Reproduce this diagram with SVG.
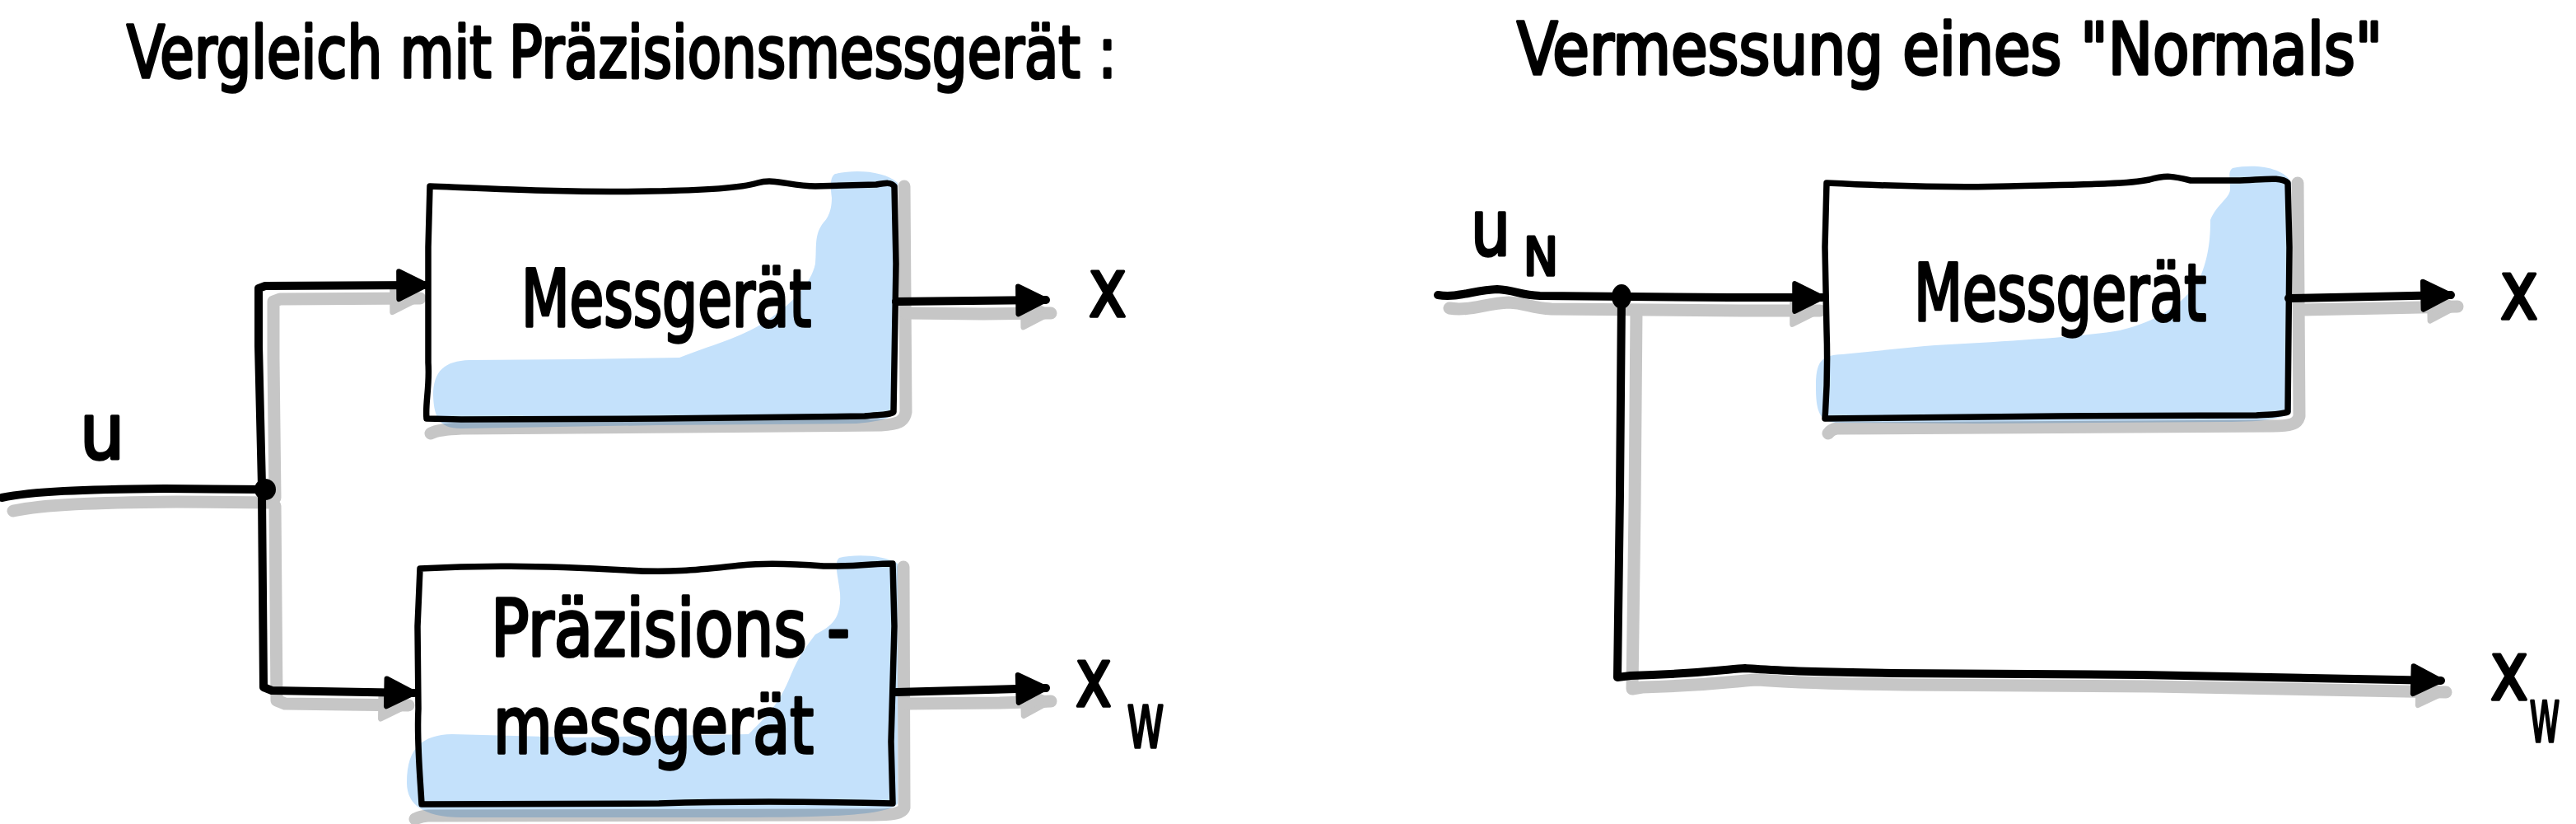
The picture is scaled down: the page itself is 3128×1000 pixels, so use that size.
<svg xmlns="http://www.w3.org/2000/svg" width="3128" height="1000" viewBox="0 0 3128 1000">
<style>
.bg{fill:#ffffff}
.box{fill:none;stroke:#000;stroke-width:7.5;stroke-linejoin:round;stroke-linecap:round}
.blue{fill:#c4e1fb;mix-blend-mode:multiply}
.sh{fill:none;stroke:#c6c6c6;stroke-width:15;stroke-linejoin:round;stroke-linecap:round}
.con{fill:none;stroke:#000;stroke-width:10;stroke-linejoin:round;stroke-linecap:round}
.dot{fill:#000}
.t{font-family:"DejaVu Sans Condensed","Liberation Sans Narrow","Liberation Sans",sans-serif;fill:#000;stroke:#000;stroke-width:3.5;stroke-linejoin:round}
</style>
<defs>
<marker id="ah" viewBox="0 0 10 10" refX="9" refY="5" markerUnits="userSpaceOnUse" markerWidth="42" markerHeight="42" orient="auto">
<path d="M1,1 L9,5 L1,9 Z" fill="#000" stroke="#000" stroke-width="1.5" stroke-linejoin="round"/>
</marker>
<marker id="ahs" viewBox="0 0 10 10" refX="9" refY="5" markerUnits="userSpaceOnUse" markerWidth="42" markerHeight="42" orient="auto">
<path d="M1,1 L9,5 L1,9 Z" fill="#c6c6c6" stroke="#c6c6c6" stroke-width="1.5" stroke-linejoin="round"/>
</marker>
</defs>
<rect class="bg" x="0" y="0" width="3128" height="1000"/>

<g id="shadows">
<path class="sh" d="M1098,226 L1100,500 C1098,512 1090,515 1070,516 L560,520 C540,521 530,522 523,526"/>
<path class="sh" d="M1097,688 L1098,980 C1096,988 1080,989 1060,989 L520,990 C512,990 508,992 504,994"/>
<path class="sh" d="M2790,222 L2792,505 C2790,515 2780,517 2760,517 L2230,520 C2224,521 2222,523 2220,526"/>
<path class="sh" d="M16,620 C54,612 114,610 214,609 L330,610"/>
<path class="sh" d="M334,604 L332,436 L332,366 L340,363 L510,362" marker-end="url(#ahs)"/>
<path class="sh" d="M334,614 L336,850 L346,854 L496,856" marker-end="url(#ahs)"/>
<path class="sh" d="M1100,380 L1194,381 L1276,380" marker-end="url(#ahs)"/>
<path class="sh" d="M1100,854 L1214,853 L1276,851" marker-end="url(#ahs)"/>
<path class="sh" d="M1760,374 C1784,378 1804,368 1832,367 C1854,368 1859,374 1884,375 L2114,377 L2210,377" marker-end="url(#ahs)"/>
<path class="sh" d="M1987,378 L1985,616 L1982,836 L1994,834 C2074,832 2114,826 2133,825 C2154,826 2164,829 2314,831 L2614,833 C2714,835 2814,836 2970,840" marker-end="url(#ahs)"/>
<path class="sh" d="M2792,376 L2894,374 L2984,372" marker-end="url(#ahs)"/>
</g>

<g id="fills">
<path class="blue" d="M1014,211 C1040,205 1075,208 1090,222 L1088,500 C1080,510 1060,512 1040,514 L800,516 L560,520 C536,520 527,510 526,480 C526,450 540,438 570,437 L700,436 L825,434 C860,420 900,410 930,390 C960,370 985,345 990,320 C992,300 988,285 1000,270 C1008,262 1010,250 1010,240 C1008,225 1008,215 1014,211 Z"/>
<path class="blue" d="M1019,677 C1040,672 1075,674 1090,684 L1090,975 C1080,990 1000,992 900,992 L560,992 C520,992 494,980 494,950 C494,910 510,892 549,891 L700,895 L909,891 C930,870 946,855 960,820 C970,795 982,781 990,770 C1010,760 1022,750 1020,720 C1018,700 1012,683 1019,677 Z"/>
<path class="blue" d="M2711,204 C2740,198 2775,204 2782,222 L2782,500 C2770,510 2740,512 2700,512 L2400,514 L2230,513 C2210,512 2205,500 2205,470 C2205,440 2210,431 2237,430 L2337,420 C2420,415 2520,410 2574,401 C2620,390 2650,370 2670,340 C2684,310 2684,280 2684,267 C2690,250 2708,240 2708,230 C2708,215 2705,208 2711,204 Z"/>
</g>

<g id="title-left">
<text class="t" x="154" y="94" font-size="88" textLength="1202" lengthAdjust="spacingAndGlyphs">Vergleich mit Präzisionsmessgerät :</text>
</g>
<g id="title-right">
<text class="t" x="1842" y="90" font-size="88" textLength="1051" lengthAdjust="spacingAndGlyphs">Vermessung eines "Normals"</text>
</g>

<g id="node-messgeraet-1">
<path class="box" d="M522,226 C620,230 700,234 790,232 C860,231 900,228 920,222 C940,216 960,226 990,226 L1064,224 C1076,222 1082,221 1086,226 L1088,320 L1085,500 C1080,504 1068,503 1050,505 L800,508 L560,509 L518,508 C516,490 522,470 520,440 L520,300 Z"/>
<text class="t" x="633" y="396" font-size="96" textLength="352" lengthAdjust="spacingAndGlyphs">Messgerät</text>
</g>

<g id="node-praezision">
<path class="box" d="M510,690 C580,686 650,686 760,692 C820,696 860,690 900,686 C930,683 960,684 1000,687 C1040,688 1070,683 1084,684 L1086,760 L1082,900 L1084,975 C1000,973 900,972 800,975 L520,976 L512,976 C510,940 506,900 508,860 L507,760 Z"/>
<text class="t" x="596" y="796" font-size="96" textLength="436" lengthAdjust="spacingAndGlyphs">Präzisions -</text>
<text class="t" x="599" y="914" font-size="96" textLength="389" lengthAdjust="spacingAndGlyphs">messgerät</text>
</g>

<g id="node-messgeraet-2">
<path class="box" d="M2218,222 C2300,226 2380,228 2440,226 C2520,224 2580,224 2610,218 C2630,212 2640,214 2660,219 L2715,219 C2750,218 2770,214 2778,222 L2780,300 L2778,500 C2770,503 2760,503 2740,504 L2500,505 L2216,508 C2217,490 2220,460 2218,400 L2216,300 Z"/>
<text class="t" x="2324" y="389" font-size="96" textLength="355" lengthAdjust="spacingAndGlyphs">Messgerät</text>
</g>

<g id="connectors">
<path class="con" d="M2,604 C40,596 100,594 200,593 L322,594"/>
<path class="con" d="M318,590 L314,420 L314,350 L322,347 L518,346" marker-end="url(#ah)"/>
<path class="con" d="M318,600 L320,834 L330,838 L503,841" marker-end="url(#ah)"/>
<path class="con" d="M1088,366 L1180,365 L1270,364" marker-end="url(#ah)"/>
<path class="con" d="M1088,840 L1200,837 L1270,835" marker-end="url(#ah)"/>
<path class="con" d="M1746,358 C1770,362 1790,352 1818,351 C1840,352 1845,358 1870,359 L2100,361 L2213,361" marker-end="url(#ah)"/>
<path class="con" d="M1969,362 L1967,600 L1964,822 L1980,820 C2060,818 2100,812 2119,811 C2140,812 2150,815 2300,817 L2600,819 C2700,821 2800,822 2964,826" marker-end="url(#ah)"/>
<path class="con" d="M2779,362 L2880,360 L2976,358" marker-end="url(#ah)"/>
<circle class="dot" cx="322" cy="594" r="13"/>
<ellipse class="dot" cx="1969" cy="360" rx="12" ry="15"/>
</g>

<g id="labels">
<text class="t" x="97" y="557" font-size="95">u</text>
<text class="t" x="1322" y="384" font-size="100" textLength="46" lengthAdjust="spacingAndGlyphs">x</text>
<text class="t" x="1306" y="857" font-size="100" textLength="44" lengthAdjust="spacingAndGlyphs">x</text>
<text class="t" x="1369" y="907" font-size="70" textLength="44" lengthAdjust="spacingAndGlyphs">W</text>
<text class="t" x="1786" y="310" font-size="95" textLength="48" lengthAdjust="spacingAndGlyphs">u</text>
<text class="t" x="1850" y="334" font-size="64" textLength="42" lengthAdjust="spacingAndGlyphs">N</text>
<text class="t" x="3036" y="387" font-size="100" textLength="46" lengthAdjust="spacingAndGlyphs">x</text>
<text class="t" x="3024" y="849" font-size="100" textLength="46" lengthAdjust="spacingAndGlyphs">x</text>
<text class="t" x="3072" y="900" font-size="68" textLength="36" lengthAdjust="spacingAndGlyphs">W</text>
</g>
</svg>
